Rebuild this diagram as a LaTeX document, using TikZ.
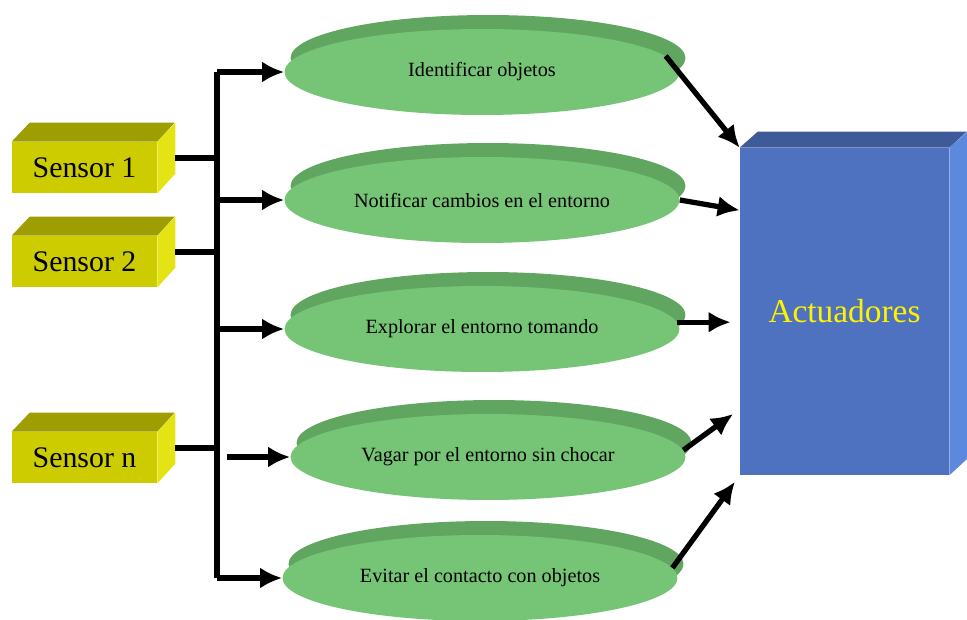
\documentclass[tikz,border=0pt]{standalone}
\usepackage{fontspec}
\setmainfont{Liberation Serif}
\usetikzlibrary{shapes.geometric}
\usetikzlibrary{shadows}
\usetikzlibrary{arrows.meta}
\definecolor{sensfront}{RGB}{204,204,0}
\definecolor{senstop}{RGB}{158,158,0}
\definecolor{sensside}{RGB}{228,228,20}
\definecolor{taskfill}{RGB}{118,196,118}
\definecolor{taskrim}{RGB}{96,166,96}
\definecolor{actfront}{RGB}{79,114,192}
\definecolor{acttop}{RGB}{62,90,152}
\definecolor{actside}{RGB}{92,136,222}

\begin{document}
\begin{tikzpicture}[x=0.02cm, y=-0.02cm,
    sensor/.style={fill=sensfront, minimum width=2.9cm, minimum height=1.02cm,
      font=\fontsize{17}{19}\selectfont},
    task/.style={ellipse, fill=taskfill, minimum width=7.9cm, minimum height=1.72cm,
      font=\fontsize{11.5}{13}\selectfont,
      general shadow={fill=taskrim, shadow xshift=0.12cm, shadow yshift=0.28cm}},
    actbox/.style={fill=actfront, minimum width=4.18cm, minimum height=6.54cm,
      text=yellow, font=\fontsize{19}{21}\selectfont},
    wire/.style={line width=3pt},
    arr/.style={wire, -{Latex[length=0.44cm,width=0.42cm]}}]
      \useasboundingbox (0,0) rectangle (967,619);

      % sensores
      \node[sensor] (s1) at (84.5,167.5) {Sensor 1};
      \node[sensor] (s2) at (84.5,261.5) {Sensor 2};
      \node[sensor] (sn) at (84.5,457.5) {Sensor n};
      \foreach \s in {s1,s2,sn} {
        \fill[senstop] (\s.north west) -- ++(18,-19) -- ++(145,0) -- (\s.north east) -- cycle;
        \fill[sensside] (\s.north east) -- ++(18,-19) -- ++(0,51) -- (\s.south east) -- cycle;
      }

      % comportamientos
      \node[task] (t1) at (482,72)  {Identificar objetos};
      \node[task] (t2) at (482,200) {Notificar cambios en el entorno};
      \node[task] (t3) at (482,329) {Explorar el entorno tomando};
      \node[task] (t4) at (488,457) {Vagar por el entorno sin chocar};
      \node[task] (t5) at (480,578) {Evitar el contacto con objetos};

      % actuadores
      \node[actbox] (act) at (844.5,311.5) {Actuadores};
      \fill[acttop] (act.north west) -- ++(18,-16) -- ++(209,0) -- (act.north east) -- cycle;
      \fill[actside] (act.north east) -- ++(18,-16) -- ++(0,327) -- (act.south east) -- cycle;

      \coordinate (bus) at (217,0);
      \coordinate (gap) at (227,0);
      \coordinate (o1) at ([shift={(18,-9.5)}]s1.east);
      \coordinate (o2) at ([shift={(18,-9.5)}]s2.east);
      \coordinate (on) at ([shift={(18,-9.5)}]sn.east);

      \draw[wire] (o1) -- (o1 -| bus);
      \draw[wire] (o2) -- (o2 -| bus);
      \draw[wire] (on) -- (on -| bus);
      \draw[wire] (t1.west -| bus) -- (t5.west -| bus);
      \draw[arr] (t1.west -| bus) -- (t1.west);
      \draw[arr] (t2.west -| bus) -- (t2.west);
      \draw[arr] (t3.west -| bus) -- (t3.west);
      \draw[arr] (t4.west -| gap) -- (t4.west);
      \draw[arr] (t5.west -| bus) -- (t5.west);

      \draw[arr] (t1.5) -- (act.north west);
      \draw[arr] (t2.east) -- (act.136);
      \draw[arr, shorten >=0.18cm] (t3.2) -- (t3.2 -| act.west);
      \draw[arr, shorten >=0.16cm] (t4.2) -- (act.223);
      \draw[arr, shorten >=0.16cm] (t5.3) -- (act.south west);
\end{tikzpicture}
\end{document}
